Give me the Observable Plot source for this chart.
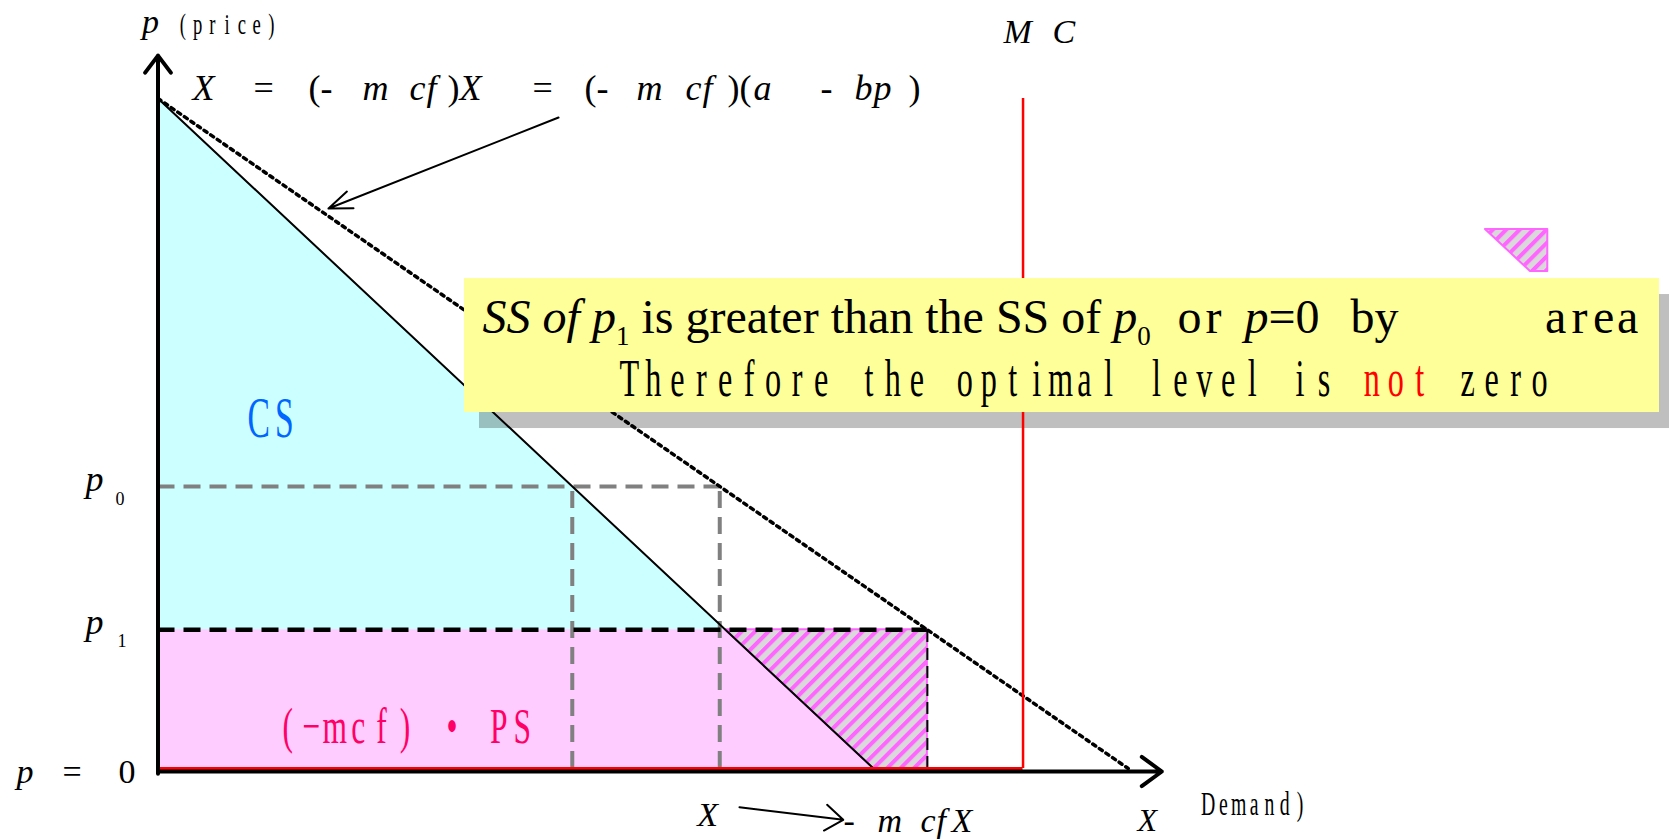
<!DOCTYPE html>
<html><head><meta charset="utf-8">
<script src="https://cdn.jsdelivr.net/npm/d3@7"></script>
<script src="https://cdn.jsdelivr.net/npm/@observablehq/plot@0.6"></script>
<style>
html,body{margin:0;padding:0;background:#fff;overflow:hidden}
svg text{white-space:pre}
</style></head><body><div id="chart"></div>
<script>
// ---------------- data ----------------
const demandQuantity = [0, 10];   // X at p = a, X at p = 0
const demandPrice = [10, 0];      // a, 0
const socialFactor = 1.356;       // (-mcf)
const priceLabels = ["p0", "p1"];
const priceLevels = [4.21, 2.07];
const mcQuantity = 12.09;
const mcHeight = 10;
const axisEnds = {x: 14.03, y: 10.64};

// ---------------- derived geometry ----------------
const a = demandPrice[0], Xa = demandQuantity[1];
const demandX = p => Xa * (1 - p / a);
const socialX = p => socialFactor * demandX(p);
const [p0, p1] = priceLevels;
const demandLine = demandQuantity.map((x, i) => ({x, y: demandPrice[i]}));
const socialLine = demandQuantity.map((x, i) => ({x: x * socialFactor, y: demandPrice[i]}));
const csArea = [{x: 0, hi: a}, {x: demandX(p1), hi: p1}];
const psArea = [{x: 0, hi: p1}, {x: demandX(p1), hi: p1}, {x: Xa, hi: 0}];
const gainArea = [{x: demandX(p1), lo: p1}, {x: Xa, lo: 0}, {x: socialX(p1), lo: 0}];

// ---------------- rich text helper ----------------
const rich = new Map();
function R(spec) { const k = spec.segs.map(s => s.t).join(""); rich.set(k, spec); return k; }
const serif = "Liberation Serif";

const eqKey = R({segs: [
  {t:"X", x:0, it:1}, {t:"=", x:61}, {t:"(-", x:116}, {t:"m", x:170, it:1},
  {t:"c", x:217, it:1}, {t:"f", x:234, it:1}, {t:")", x:255}, {t:"X", x:267, it:1}, {t:"=", x:340},
  {t:"(-", x:392}, {t:"m", x:444, it:1}, {t:"c", x:493, it:1}, {t:"f", x:510, it:1},
  {t:")(", x:535}, {t:"a", x:561, it:1}, {t:"-", x:628}, {t:"b", x:662, it:1},
  {t:"p", x:681, it:1}, {t:")", x:716}]});
const mcKey = R({segs: [{t:"M", x:0, it:1}, {t:" ", x:30}, {t:"C", x:49, it:1}]});
const bottomKey = R({segs: [{t:"-", x:0}, {t:"m", x:34, it:1}, {t:"c", x:77, it:1}, {t:"f", x:93, it:1}, {t:"X", x:108, it:1}]});
const zeroKey = R({segs: [{t:"p", x:0, it:1}, {t:"=", x:46}, {t:"0", x:102}]});
const p0Key = R({segs: [{t:"p", it:1}, {t:priceLabels[0].slice(1), x:30, shift:14, size:18}]});
const p1Key = R({segs: [{t:"p", it:1}, {t:priceLabels[1].slice(1), x:32, shift:13, size:18}]});
const priceKey = R({sx:0.62, segs: [{t:"(price)", x:0, pitch:14.75}]});
const demandKey = R({sx:0.6, segs: [{t:"Demand)", x:0, pitch:15.3}]});
const csKey = R({sx:0.6, segs: [{t:"CS", x:0, pitch:25.5}]});
const psKey = R({sx:0.63, segs: [{t:"(−mcf) • PS", x:0, pitch:23.45}]});
const line1Key = R({segs: [
  {t:"SS of p", it:1}, {t:"1", size:27, shift:12}, {t:" is greater than the SS of "},
  {t:"p", it:1}, {t:"0", size:27, shift:12},
  {t:" or ", x:671, pitch:24, size:48}, {t:"p", x:762, it:1}, {t:"=0"},
  {t:" by ", x:844, pitch:24, size:48}, {t:"area", x:1061, pitch:24, size:48}]});
const line2Key = R({sx:0.62, segs: [
  {t:"Therefore the optimal level is ", x:0, pitch:23.95},
  {t:"not", pitch:23.95, fill:"#FF0000"}, {t:" zero", pitch:23.95}]});

function label(key, x, y, o = {}) {
  return Plot.text([key], {x, y, text: d => d, textAnchor: "start", lineAnchor: "bottom",
    fontFamily: serif, fontSize: 34, fill: "black", ...o});
}

const hatch = "url(#hatch)";
const pink = "#FF66FF";

const chart = Plot.plot({
  width: 1669, height: 839,
  marginTop: 0, marginRight: 0, marginBottom: 0, marginLeft: 0,
  x: {domain: [0, 10], range: [157.5, 873], axis: null},
  y: {domain: [0, 10], range: [768, 98], axis: null},
  style: {background: "white", fontFamily: serif, overflow: "hidden"},
  marks: [
    Plot.areaY(csArea, {x: "x", y1: p1, y2: "hi", fill: "#CCFFFF"}),
    Plot.areaY(psArea, {x: "x", y1: 0, y2: "hi", fill: "#FFCCFF"}),
    Plot.areaY(gainArea, {x: "x", y1: "lo", y2: p1, fill: hatch, stroke: pink, strokeWidth: 2}),
    Plot.ruleY([p0], {x1: 0, x2: socialX(p0), stroke: "#808080", strokeWidth: 4, strokeDasharray: "17,9"}),
    Plot.ruleX([demandX(p0), socialX(p0)], {y1: 0, y2: p0, stroke: "#808080", strokeWidth: 4, strokeDasharray: "17,9"}),
    Plot.ruleY([p1], {x1: 0, x2: socialX(p1), stroke: "black", strokeWidth: 4.5, strokeDasharray: "17,9"}),
    Plot.ruleX([socialX(p1)], {y1: 0, y2: p1, stroke: "black", strokeWidth: 2, strokeDasharray: "12,6"}),
    // box shadow
    Plot.rect([0], {x1: 4.284, x2: 20.985, y1: 5.313, y2: 7.313, dx: 15, dy: 16, fill: "black", fillOpacity: 0.25}),
    Plot.line(demandLine, {x: "x", y: "y", stroke: "black", strokeWidth: 2}),
    Plot.line(socialLine, {x: "x", y: "y", stroke: "black", strokeWidth: 3.5, strokeDasharray: "3.5,4.5"}),
    Plot.ruleX([mcQuantity], {y1: 0, y2: mcHeight, stroke: "#FF0000", strokeWidth: 2.5}),
    Plot.ruleY([0], {x1: 0, x2: mcQuantity, stroke: "#FF0000", strokeWidth: 3}),
    Plot.arrow([0], {x1: 0, y1: 0, x2: axisEnds.x, y2: 0, dy: 3, stroke: "black", strokeWidth: 4, headAngle: 72, headLength: 9.3}),
    Plot.arrow([0], {x1: 0, y1: -0.08, x2: 0, y2: axisEnds.y, stroke: "black", strokeWidth: 4, headAngle: 74, headLength: 8}),
    Plot.arrow([0], {x1: 5.598, y1: 9.716, x2: 2.383, y2: 8.358, stroke: "black", strokeWidth: 2, headAngle: 42, headLength: 18.75}),
    Plot.arrow([0], {x1: 8.127, y1: -0.578, x2: 9.577, y2: -0.766, stroke: "black", strokeWidth: 2, headAngle: 72, headLength: 16.5}),
    // yellow note
    Plot.rect([0], {x1: 4.284, x2: 20.985, y1: 5.313, y2: 7.313, fill: "#FFFF99"}),
    // legend swatch of the hatched area
    Plot.areaY([{x: 18.553, lo: 8.045}, {x: 19.182, lo: 7.418}, {x: 19.424, lo: 7.418}],
      {x: "x", y1: "lo", y2: 8.045, fill: hatch, stroke: pink, strokeWidth: 2}),
    // texts
    label("p", -0.222, 10.985, {fontStyle: "italic"}),
    label(priceKey, 0.245, 10.96, {fontSize: 30}),
    label(mcKey, 11.816, 10.821),
    label(eqKey, 0.482, 9.985, {fontSize: 36}),
    label(csKey, 1.23, 4.955, {fontSize: 56, fill: "#0066FF"}),
    label(p0Key, -1.013, p0, {dy: 5, fontSize: 36}),
    label(p1Key, -1.013, p1, {dy: 4, fontSize: 36}),
    label(zeroKey, -1.978, 0, {dy: 14}),
    label(psKey, 1.65, 0.388, {fontSize: 50, fill: "#FF0066"}),
    label("X", 7.536, -0.851, {fontStyle: "italic"}),
    label(bottomKey, 9.58, -0.955),
    label("X", 13.69, -0.94, {fontStyle: "italic", fontSize: 32}),
    label(demandKey, 14.57, -0.701, {fontSize: 33}),
    label(line1Key, 4.536, 6.493, {fontSize: 48}),
    label(line2Key, 6.422, 5.567, {fontSize: 52})
  ]
});

// hatch pattern
const SVGNS = "http://www.w3.org/2000/svg";
const defs = d3.select(chart).insert("defs", ":first-child");
const pat = defs.append("pattern").attr("id", "hatch").attr("patternUnits", "userSpaceOnUse")
  .attr("width", 9.5).attr("height", 9.5).attr("patternTransform", "rotate(45)");
pat.append("rect").attr("width", 9.5).attr("height", 9.5).attr("fill", "#D9D9D9");
pat.append("rect").attr("width", 4).attr("height", 9.5).attr("fill", pink);

// rich text
chart.querySelectorAll("text").forEach(el => {
  const spec = rich.get(el.textContent);
  if (!spec) return;
  const sx = spec.sx || 1;
  const bx = parseFloat(el.getAttribute("x")) || 0;
  if (sx !== 1) el.setAttribute("transform", (el.getAttribute("transform") || "") + ` scale(${sx},1)`);
  el.textContent = "";
  let cursor = 0, shift = 0;
  for (const s of spec.segs) {
    const ts = document.createElementNS(SVGNS, "tspan");
    const start = s.x != null ? s.x : cursor;
    if (s.pitch) {
      ts.setAttribute("x", Array.from(s.t, (_, i) => bx + (start + (i + 0.5) * s.pitch) / sx).join(" "));
      ts.setAttribute("text-anchor", "middle");
      cursor = start + s.t.length * s.pitch;
    } else if (s.x != null) {
      ts.setAttribute("x", bx + s.x / sx);
      ts.setAttribute("text-anchor", "start");
    }
    const sh = s.shift || 0;
    if (sh !== shift) { ts.setAttribute("dy", sh - shift); shift = sh; }
    if (s.it) ts.setAttribute("font-style", "italic");
    if (s.size) ts.setAttribute("font-size", s.size);
    if (s.fill) ts.setAttribute("fill", s.fill);
    ts.textContent = s.t;
    el.appendChild(ts);
  }
});

document.getElementById("chart").appendChild(chart);
</script></body></html>
